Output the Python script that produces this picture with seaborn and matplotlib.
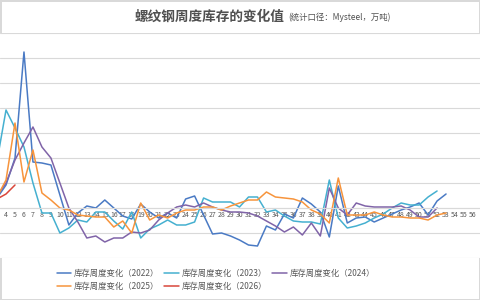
import numpy as np
import pandas as pd
import seaborn as sns
import matplotlib.pyplot as plt
from matplotlib.lines import Line2D

# weekly change of rebar inventory (万吨), week numbers start at 3 (weeks 1-2 are cut off in the source)
first_week = 3
chg_2022 = [8, 18.4, 40, 124.8, 36.8, 36, 34.4, 10.4, -13.6, -4,
            1.6, 0, 6.4, 0, -6.4, -8.8, 3.2, -3.2, -8, -4,
            -8, 7.2, 9.6, -5.6, -20.8, -20, -22.4, -25.6, -29.6, -30.4,
            -14.4, -17.6, -4.8, -8, 8, 3.2, -3.2, -23.2, 17.6, -12,
            -8, -7.2, -11.2, -8, -4.8, -1.6, 0.8, 4, -5.6, 5.6, 11.2]
chg_2023 = [37.6, 78.4, 64, 48.8, 20, -4, -4, -20, -16, -9.6,
            -11.2, -3.2, -3.2, -10.4, -16.8, -3.2, -24, -16.8, -13.6, -9.6,
            -13.6, -13.6, -11.2, 8, 4.8, 4.8, 4.8, 0.8, 8.8, 8.8,
            -3.2, -1.6, -6.4, -10.4, -11.2, -11.2, -12.8, 22.4, -8, -16,
            -14.4, -12, -8, -4.8, 0, 4, 2.4, 2.4, 8.8, 13.6]
chg_2024 = [9.6, 20, 38.4, 52, 64.8, 48.8, 40, 20, 0, -11.2,
            -24, -22.4, -27.2, -24, -24, -19.2, -20, -17.6, -9.6, -4,
            0.8, 2.4, 0.8, 4, 0.8, -1.6, -3.2, -3.2, -4, -6.4,
            -10.4, -14.4, -19.2, -15.2, -21.6, -12, -22.4, 16, 0, -5.6,
            4, 1.6, 0.8, 0.8, 0.8, 1.6, -1.6, -7.2, -7.2, 0]
chg_2025 = [8.8, 22.4, 68, 20.8, 46.4, 12, 6.4, 0, -1.6, -5.6,
            -6.4, -7.2, -7.2, -15.2, -10.4, -20, 4, -9.6, -5.6, -8,
            -4, -1.6, -1.6, 0.8, 0.8, -1.6, 1.6, 4, 6.4, 6.4,
            12.8, 8.8, 8, 7.2, 4.8, -1.6, -4.8, -12, 24, -5.6,
            -5.6, -5.6, -3.2, -5.6, -7.2, -7.2, -8, -8, -9.6, -5.6, -4]
chg_2026 = [7.2, 11.2, 18.4]

years = ['2022', '2023', '2024', '2025', '2026']
colors = ['#4a7ac4', '#45b0d0', '#8064a8', '#f7943c', '#d9463a']
week_labels = [str(w) for w in range(4, 57)]

rows = []
for yr, vals in zip(years, [chg_2022, chg_2023, chg_2024, chg_2025, chg_2026]):
    for i, v in enumerate(vals):
        rows.append({'week': first_week + i, 'value': v, 'series': yr})
df = pd.DataFrame(rows)

sns.set_theme(style='white')
plt.rcParams['font.family'] = ['Noto Sans CJK SC', 'DejaVu Sans']

fig = plt.figure(figsize=(4.8, 3), dpi=100)
fig.patch.set_edgecolor('#d9d9d9')
fig.patch.set_linewidth(1)
ax = fig.add_axes([0, 42 / 300, 1, 225 / 300])

sns.lineplot(data=df, x='week', y='value', hue='series', hue_order=years,
             palette=dict(zip(years, colors)), linewidth=1.1,
             estimator=None, legend=False, ax=ax)

ax.set_xlim(3.33, 56.78)
ax.set_ylim(-40, 140)
ax.set_yticks(np.arange(-40, 141, 20))
ax.set_axisbelow(True)
ax.yaxis.grid(True, color='#d9d9d9', linewidth=0.8)
ax.tick_params(axis='y', labelleft=False, length=0)

# category labels sit on the zero line, Excel style
for s in ['top', 'right', 'left']:
    ax.spines[s].set_visible(False)
ax.spines['bottom'].set_position(('data', 0))
ax.spines['bottom'].set_color('#d9d9d9')
ax.spines['bottom'].set_linewidth(0.8)
ax.set_xticks(range(4, 57))
ax.set_xticklabels(week_labels, fontsize=5, color='#595959')
ax.tick_params(axis='x', length=0, pad=2)
ax.set_xlabel('')
ax.set_ylabel('')

fig.text(135 / 480, 1 - 17 / 300, '螺纹钢周度库存的变化值', fontsize=9.8,
         fontweight='bold', color='#505050', va='center', ha='left')
fig.text(288 / 480, 1 - 17 / 300, '(统计口径：Mysteel，万吨)', fontsize=6,
         color='#505050', va='center', ha='left')

# legend is filled row by row in the source: reorder for matplotlib's column-major fill
handles = [Line2D([], [], color=c, linewidth=1.1) for c in colors]
labels = [f'库存周度变化（{y}）' for y in years]
order = [0, 3, 1, 4, 2]
fig.legend([handles[i] for i in order], [labels[i] for i in order],
           loc='center', bbox_to_anchor=(216 / 480, 1 - 280 / 300),
           ncol=3, frameon=False, fontsize=6, handlelength=1.7, handletextpad=0.4,
           columnspacing=0.6, labelcolor='#595959', labelspacing=0.4)

fig.savefig('out.png', dpi=100)
